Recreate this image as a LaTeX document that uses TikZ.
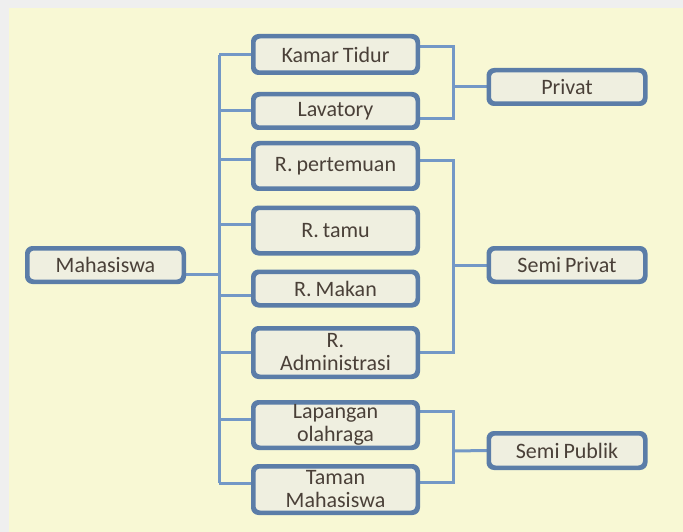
\documentclass[tikz,border=0pt]{standalone}
\usepackage{fontspec}
\setmainfont{Carlito}[WordSpace=0.8]
\frenchspacing
\usetikzlibrary{calc}
\definecolor{pagegrey}{HTML}{EFEFEF}
\definecolor{paper}{HTML}{F8F8D4}
\definecolor{boxfill}{HTML}{EFEFE0}
\definecolor{boxline}{HTML}{5B7DA8}
\definecolor{linkline}{HTML}{7398C6}
\definecolor{labeltext}{HTML}{4A4038}
\tikzset{%
  x=1pt,y=-1pt,%
  room/.style={draw=boxline,line width=3pt,fill=boxfill,rounded corners=6pt,
    inner sep=0pt,align=center,text=labeltext,
    font=\fontsize{22}{23}\selectfont},%
  roomwide/.style={room,minimum width=163pt},%
  zone/.style={room,minimum width=155pt,minimum height=32pt},%
  link/.style={draw=linkline,line width=3pt}%
}
\begin{document}
\begin{tikzpicture}

%% background

\fill[pagegrey] (0,0) rectangle (683,532);
\fill[paper] (9,8) rectangle (683,532);
\useasboundingbox (0,0) rectangle (683,532);

%% some definitions

\def\xL{219} % left bracket
\def\xR{453} % right bracket

%% user and rooms

\node[zone] (mhs) at (105.5,265) {Mahasiswa};

\node[roomwide,minimum height=35pt] (kamar) at (335.5,54.5) {Kamar Tidur};
\node[roomwide,minimum height=32pt] (lav) at (335.5,111) {Lavatory};
\node[roomwide,minimum height=44pt] (pert) at (335.5,166) {R. pertemuan};
\node[roomwide,minimum height=44pt] (tamu) at (335.5,230.5) {R. tamu};
\node[roomwide,minimum height=32pt] (makan) at (335.5,288.5) {R. Makan};
\node[roomwide,minimum height=47pt] (admin) at (335.5,352.5) {R.\\Administrasi};
\node[roomwide,minimum height=44pt] (lap) at (335.5,425) {Lapangan\\olahraga};
\node[roomwide,minimum height=45pt] (taman) at (335.5,489.5) {Taman\\Mahasiswa};

%% zones

\node[zone] (privat) at (567,87) {Privat};
\node[zone] (semipriv) at (567,265) {Semi Privat};
\node[zone,minimum height=33pt] (semipub) at (567,450.5) {Semi Publik};

%% left bracket

\coordinate (lbtop) at (\xL,55);
\coordinate (lbbot) at (\xL,483);
\draw[link] (lbtop) -- (lbbot);
\draw[link] ([yshift=-9pt]mhs.east) -- ($(lbtop |- mhs.east)+(0,9)$);
\foreach \n/\s in {kamar/0,lav/0,pert/6,tamu/6,makan/-7,admin/0,lap/6,taman/6.5}
  \draw[link] ([yshift=\s pt]\n.west) -- ($(lbtop |- \n.west)+(0,-\s)$);

%% right brackets

\draw[link] ([yshift=7.5pt]kamar.east) -| (\xR,87) |- ([yshift=-8pt]lav.east);
\draw[link] (\xR,87) -- (privat.west);
\draw[link] ([yshift=5pt]pert.east) -| (\xR,265) |- (admin.east);
\draw[link] (\xR,265) -- (semipriv.west);
\draw[link] ([yshift=14pt]lap.east) -| (\xR,451) |- ([yshift=7.5pt]taman.east);
\draw[link] (\xR,451) -- (semipub.west);

%% boxes again on top of the links
\foreach \n in {mhs,kamar,lav,pert,tamu,makan,admin,lap,taman,privat,semipriv,semipub}
  \draw[boxline,line width=3pt,rounded corners=6pt] (\n.south west) rectangle (\n.north east);
\end{tikzpicture}
\end{document}
